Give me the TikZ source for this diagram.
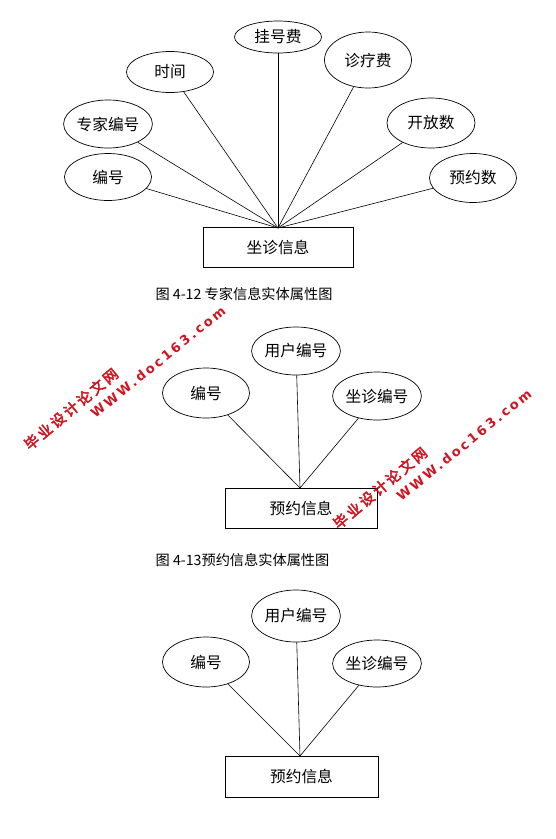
\documentclass[tikz,border=0pt]{standalone}
\usepackage{fontspec}
\usetikzlibrary{shapes.geometric}
\newfontfamily\cjk{Noto Sans CJK SC}
\newfontfamily\cjkwm[FakeBold=3,LetterSpace=18]{Noto Sans CJK SC}
\newfontfamily\latwm[LetterSpace=20]{DejaVu Sans Bold}
\definecolor{wmred}{RGB}{210,20,30}
\tikzset{
  attr/.style={ellipse, draw, line width=0.7pt, inner sep=0pt, font=\cjk\fontsize{15.7}{17}\selectfont},
  ent/.style={rectangle, draw, line width=0.7pt, inner sep=0pt, minimum width=150pt, minimum height=40pt, font=\cjk\fontsize{15.7}{17}\selectfont},
  conn/.style={line width=0.6pt},
  captext/.style={font=\cjk\fontsize{14.2}{16}\selectfont, inner sep=0pt},
  wmcjk/.style={text=wmred, rotate=40, font=\cjkwm\fontsize{14.5}{16}\selectfont, inner sep=0pt},
  wmlat/.style={text=wmred, rotate=39, font=\latwm\fontsize{13}{15}\selectfont, inner sep=0pt}
}
\begin{document}
\begin{tikzpicture}[x=1pt,y=-1pt]
\useasboundingbox (0,0) rectangle (555,839);
\fill[white] (0,0) rectangle (555,839);
% ---- Diagram 1
\node[ent] (r1) at (278,247.5) {坐诊信息};
\coordinate (c1) at (278,228);
\node[attr, minimum width=87pt, minimum height=32pt] (a1) at (278,37) {挂号费};
\node[attr, minimum width=87pt, minimum height=41pt] (a2) at (170,72) {时间};
\node[attr, minimum width=87pt, minimum height=56pt] (a3) at (368,60) {诊疗费};
\node[attr, minimum width=87pt, minimum height=48pt] (a4) at (108,124) {专家编号};
\node[attr, minimum width=88pt, minimum height=50pt] (a5) at (431,123) {开放数};
\node[attr, minimum width=87pt, minimum height=47pt] (a6) at (108,177) {编号};
\node[attr, minimum width=87pt, minimum height=49pt] (a7) at (473,178) {预约数};
\foreach \n in {a1,a2,a3,a4,a5,a6,a7} \draw[conn] (\n) -- (c1);
\node[captext] (cap1) at (244,294) {图 4-12 专家信息实体属性图};
% ---- Diagram 2
\node[ent, minimum width=152pt] (r2) at (301,508) {预约信息};
\coordinate (c2) at (300,488);
\node[attr, minimum width=78pt, minimum height=48pt] (b1) at (296,351) {用户编号};
\node[attr, minimum width=87pt, minimum height=50pt] (b2) at (206,393) {编号};
\node[attr, minimum width=87pt, minimum height=48pt] (b3) at (377,396) {坐诊编号};
\foreach \n in {b1,b2,b3} \draw[conn] (\n) -- (c2);
\node[captext] (cap2) at (242.5,560) {图 4-13预约信息实体属性图};
% ---- Diagram 3
\node[ent, minimum width=153pt, minimum height=41pt] (r3) at (301.5,776.5) {预约信息};
\coordinate (c3) at (300,756);
\node[attr, minimum width=78pt, minimum height=52pt] (d1) at (296,616) {用户编号};
\node[attr, minimum width=87pt, minimum height=50pt] (d2) at (206,662) {编号};
\node[attr, minimum width=87pt, minimum height=47pt] (d3) at (377,663.5) {坐诊编号};
\foreach \n in {d1,d2,d3} \draw[conn] (\n) -- (c3);
% ---- Watermarks
\node[wmcjk] (w1) at (71,409) {毕业设计论文网};
\node[wmlat] (w2) at (158,362) {WWW.doc163.com};
\node[wmcjk] (w3) at (380,488) {毕业设计论文网};
\node[wmlat] (w4) at (464,445) {WWW.doc163.com};
\end{tikzpicture}
\end{document}
